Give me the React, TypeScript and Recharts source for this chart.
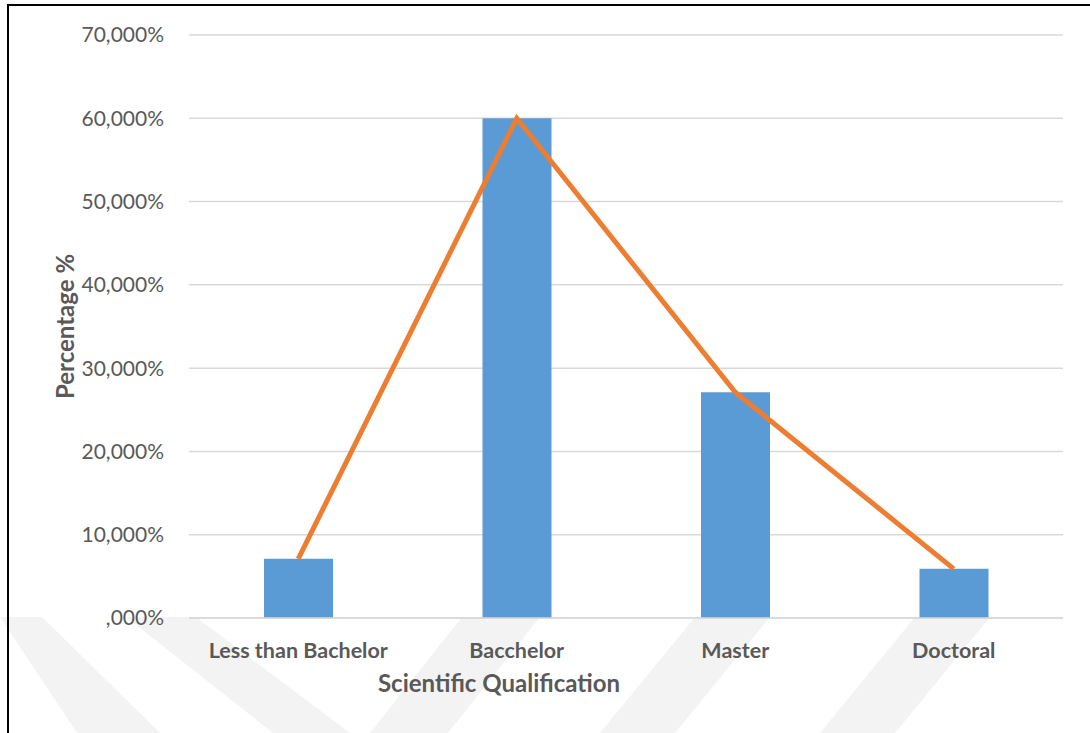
import React from "react";
import {
  ComposedChart,
  Bar,
  Line,
  XAxis,
  YAxis,
  CartesianGrid,
  Label,
} from "recharts";

// categories + values (percent)
const categories = ["Less than Bachelor", "Bacchelor", "Master", "Doctoral"];
const percentValues = [7.1, 60.0, 27.1, 5.9];
const yTicks = [0, 10, 20, 30, 40, 50, 60, 70];
const yTickLabels = [",000%", "10,000%", "20,000%", "30,000%", "40,000%", "50,000%", "60,000%", "70,000%"];

const chartData = categories.map((name, i) => ({
  name,
  value: percentValues[i],
}));

const FONT = "Lato, 'Open Sans', sans-serif";
const TEXT = "#595959";

// light chevron watermark behind the chart
function Watermark() {
  const stripes = [
    "0,617 42,617 160,733 77,733",
    "126,617 196,617 350,733 273,733",
    "370,733 448,733 540,617 462,617",
    "600,733 675,733 770,617 695,617",
    "820,733 895,733 990,617 915,617",
  ];
  return (
    <svg
      width={1090}
      height={733}
      style={{ position: "absolute", left: 0, top: 0 }}
    >
      {stripes.map((p, i) => (
        <polygon key={i} points={p} fill="#f3f3f3" />
      ))}
    </svg>
  );
}

// rotated y axis title, centred on the plot height
const YTitle = (props: any) => {
  const { viewBox } = props;
  const cy = viewBox.y + viewBox.height / 2;
  const cx = 64;
  return (
    <text
      x={cx}
      y={cy}
      transform={`rotate(-90, ${cx}, ${cy})`}
      textAnchor="middle"
      dominantBaseline="central"
      fill={TEXT}
      fontSize={24}
      fontWeight={700}
      fontFamily={FONT}
    >
      Percentage %
    </text>
  );
};

export default function App() {
  return (
    <div
      style={{
        position: "absolute",
        left: 0,
        top: 0,
        width: 1090,
        height: 733,
        overflow: "hidden",
        background: "#fff",
        fontFamily: FONT,
      }}
    >
      <Watermark />
      {/* frame */}
      <div
        style={{
          position: "absolute",
          left: 7,
          top: 4,
          width: 1100,
          height: 760,
          border: "2px solid #000",
          boxSizing: "border-box",
        }}
      />
      <div style={{ position: "absolute", left: 0, top: 0 }}>
        <ComposedChart
          width={1090}
          height={733}
          data={chartData}
          margin={{ top: 35, right: 27, left: 0, bottom: 55 }}
        >
          <CartesianGrid
            vertical={false}
            stroke="#d9d9d9"
            strokeWidth={1.5}
          />
          <XAxis
            dataKey="name"
            height={60}
            axisLine={{ stroke: "#d9d9d9", strokeWidth: 1.5 }}
            tickLine={false}
            tickSize={0}
            tickMargin={25}
            interval={0}
            tick={{ fill: TEXT, fontSize: 21.5, fontWeight: 700, fontFamily: FONT }}
          >
            <Label
              value="Scientific Qualification"
              position="insideBottom"
              offset={-14}
              dx={-127}
              fill={TEXT}
              fontSize={24}
              fontWeight={700}
              fontFamily={FONT}
            />
          </XAxis>
          <YAxis
            width={189}
            domain={[0, 70]}
            ticks={yTicks}
            axisLine={false}
            tickLine={false}
            tickSize={0}
            tickMargin={25}
            tickFormatter={(v: number) => yTickLabels[yTicks.indexOf(v)]}
            tick={{ fill: TEXT, fontSize: 21, fontFamily: FONT }}
            label={<YTitle />}
          />
          <Bar
            dataKey="value"
            fill="#5b9bd5"
            barSize={69}
            isAnimationActive={false}
          />
          <Line
            dataKey="value"
            type="linear"
            stroke="#ed7d31"
            strokeWidth={5}
            dot={false}
            activeDot={false}
            isAnimationActive={false}
          />
        </ComposedChart>
      </div>
    </div>
  );
}
